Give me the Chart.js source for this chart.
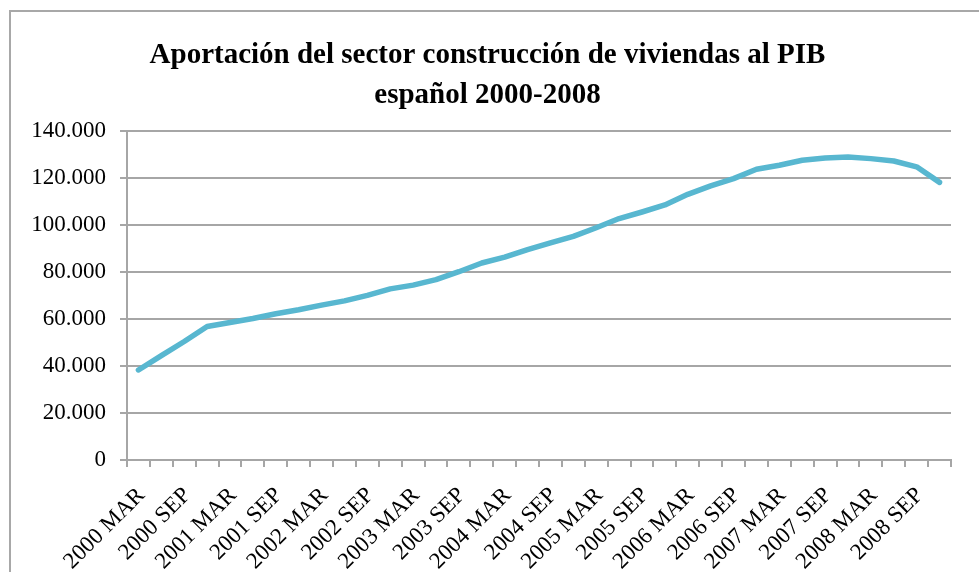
<!DOCTYPE html>
<html>
<head>
<meta charset="utf-8">
<script src="https://cdn.jsdelivr.net/npm/chart.js@4/dist/chart.umd.min.js"></script>
<style>
  html, body { margin: 0; padding: 0; background: #fff; overflow: hidden; }
  #frame {
    position: absolute; left: 9px; top: 10px;
    width: 1100px; height: 700px;
    border: 2px solid #a8a8a8;
  }
  #wrap { position: absolute; left: 0; top: 0; width: 979px; height: 572px; }
</style>
</head>
<body>
<div id="frame"></div>
<div id="wrap"><canvas id="myChart" width="979" height="572"></canvas></div>
<script>
// trimestres 2000-2008
var years = ['2000', '2001', '2002', '2003', '2004', '2005', '2006', '2007', '2008'];
var quarters = ['MAR', 'JUN', 'SEP', 'DIC'];
var labels = [];
years.forEach(function (y) {
    quarters.forEach(function (q) { labels.push(y + ' ' + q); });
});

// aportacion al PIB (millones de euros)
var valores = [
    38300, 44400, 50400, 56800, 58500, 60200, 62200, 63900, 65900,
    67700, 70000, 72800, 74400, 76700, 80100, 83800, 86300, 89500,
    92400, 95100, 98800, 102700, 105500, 108500, 113000, 116600, 119700,
    123700, 125400, 127500, 128500, 128900, 128200, 127200, 124700, 118100
];

var yTicks = [0, 20000, 40000, 60000, 80000, 100000, 120000, 140000];

function puntos(v) {
    return String(v).replace(/\B(?=(\d{3})+(?!\d))/g, '.');
}

var serif = "'Liberation Serif', 'Times New Roman', serif";
var gris = '#a6a6a6';

var ctx = document.getElementById('myChart').getContext('2d');
var myChart = new Chart(ctx, {
    type: 'line',
    data: {
        labels: labels,
        datasets: [{
            label: 'PIB construcción viviendas',
            data: valores,
            borderColor: '#58b7d0',
            backgroundColor: '#58b7d0',
            borderWidth: 5.5,
            borderCapStyle: 'round',
            borderJoinStyle: 'round',
            pointRadius: 0,
            tension: 0,
            fill: false
        }]
    },
    options: {
        responsive: false,
        animation: false,
        layout: {
            padding: { top: 10, left: 24, right: 28, bottom: 0 }
        },
        plugins: {
            legend: { display: false },
            tooltip: { enabled: false },
            title: {
                display: true,
                text: ['Aportación del sector construcción de viviendas al PIB', 'español 2000-2008'],
                color: '#000',
                font: { family: serif, size: 29, weight: 'bold', lineHeight: 1.36 },
                padding: { top: 26, bottom: 16 }
            }
        },
        scales: {
            x: {
                offset: true,
                grid: {
                    offset: true,
                    drawOnChartArea: false,
                    drawTicks: true,
                    tickLength: 7,
                    color: gris,
                    lineWidth: 2
                },
                border: { color: gris, width: 2 },
                ticks: {
                    autoSkip: false,
                    minRotation: 45,
                    maxRotation: 45,
                    padding: 15,
                    labelOffset: 3,
                    color: '#000',
                    font: { family: serif, size: 23 },
                    callback: function (val, i) {
                        return i % 2 === 0 ? this.getLabelForValue(val) : '';
                    }
                },
                afterFit: function (scale) { scale.height = 112; }
            },
            y: {
                min: 0,
                max: 140000,
                afterBuildTicks: function (scale) {
                    scale.ticks = yTicks.map(function (v) { return { value: v }; });
                },
                grid: {
                    color: gris,
                    lineWidth: 2,
                    drawTicks: true,
                    tickLength: 7
                },
                border: { color: gris, width: 2 },
                ticks: {
                    padding: 14,
                    color: '#000',
                    font: { family: serif, size: 23 },
                    callback: function (v) { return puntos(v); }
                },
                afterFit: function (scale) { scale.width = 103; }
            }
        }
    }
});
</script>
</body>
</html>
